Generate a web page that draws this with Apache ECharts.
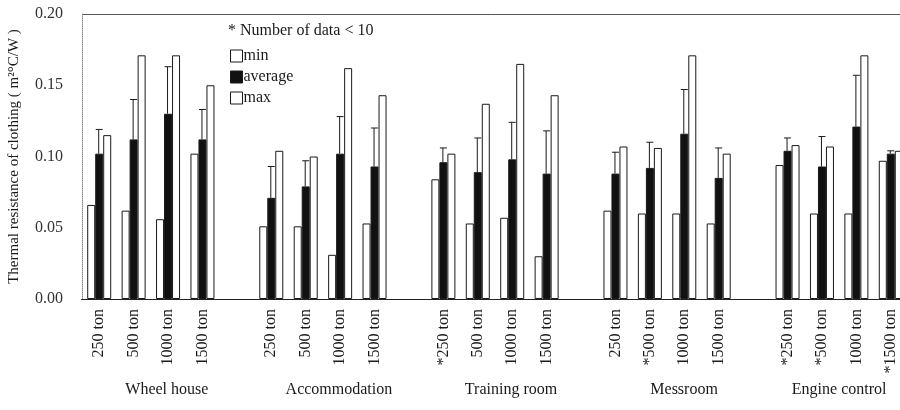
<!DOCTYPE html>
<html><head><meta charset="utf-8">
<script src="https://cdn.jsdelivr.net/npm/echarts@6/dist/echarts.min.js"></script>
<style>html,body{margin:0;padding:0;background:#fff}#c{width:900px;height:410px}</style>
</head><body><div id="c"></div>
<script>
const categories = ['250 ton','500 ton','1000 ton','1500 ton','',
  '250 ton','500 ton','1000 ton','1500 ton','',
  '*250 ton','500 ton','1000 ton','1500 ton','',
  '250 ton','*500 ton','1000 ton','1500 ton','',
  '*250 ton','*500 ton','1000 ton','*1500 ton'];
const groups = ['Wheel house','Accommodation','Training room','Messroom','Engine control'];
const yTicks = [0, 0.05, 0.10, 0.15, 0.20];
const minValues = [0.066,0.062,0.056,0.102,null, 0.051,0.051,0.031,0.053,null, 0.084,0.053,0.057,0.030,null, 0.062,0.060,0.060,0.053,null, 0.094,0.060,0.060,0.097];
const avgValues = [0.102,0.112,0.130,0.112,null, 0.071,0.079,0.102,0.093,null, 0.096,0.089,0.098,0.088,null, 0.088,0.092,0.116,0.085,null, 0.104,0.093,0.121,0.102];
const maxValues = [0.115,0.171,0.171,0.150,null, 0.104,0.100,0.162,0.143,null, 0.102,0.137,0.165,0.143,null, 0.107,0.106,0.171,0.102,null, 0.108,0.107,0.171,0.104];
const errTop    = [0.119,0.140,0.163,0.133,null, 0.093,0.097,0.128,0.120,null, 0.106,0.113,0.124,0.118,null, 0.103,0.110,0.147,0.106,null, 0.113,0.114,0.157,0.104];

const serif = 'Liberation Serif';
const ink = '#1a1a1a';
const toData = a => a.map(v => v == null ? '-' : v);
const errData = [];
avgValues.forEach((v, i) => { if (v != null) errData.push([i, v, errTop[i]]); });

const chart = echarts.init(document.getElementById('c'), null, {renderer: 'canvas'});
const barBase = {type: 'bar', barWidth: 8, barGap: '0%', animation: false};
chart.setOption({
  animation: false,
  backgroundColor: '#fff',
  title: {text: '* Number of data < 10', left: 228, top: 23, padding: 0,
    textStyle: {fontFamily: serif, fontSize: 16, fontWeight: 'normal', color: ink}},
  legend: {orient: 'vertical', left: 230, top: 48, padding: 0, itemWidth: 12, itemHeight: 12, itemGap: 5,
    textStyle: {fontFamily: serif, fontSize: 16, color: ink, padding: [0,0,0,-4]},
    data: [
      {name: 'min', icon: 'rect', itemStyle: {color: '#fff', borderColor: ink, borderWidth: 1}},
      {name: 'average', icon: 'rect', itemStyle: {color: '#111', borderColor: ink, borderWidth: 1}},
      {name: 'max', icon: 'rect', itemStyle: {color: '#fff', borderColor: ink, borderWidth: 1}}
    ]},
  grid: {left: 82, right: -8, top: 14, bottom: 111, outerBoundsMode: 'none', containLabel: false},
  xAxis: [{
    type: 'category', data: categories, boundaryGap: true,
    axisLine: {show: true, onZero: false, lineStyle: {color: '#222', width: 1}},
    axisTick: {show: false},
    axisLabel: {rotate: 90, interval: 0, margin: 10, fontFamily: serif, fontSize: 16, color: ink}
  }],
  yAxis: {
    type: 'value', min: 0, max: 0.20, interval: 0.05,
    name: 'Thermal resistance of clothing ( m\u00b2\u00b0C/W )', nameLocation: 'middle', nameGap: 60, nameRotate: 90,
    nameTextStyle: {fontFamily: serif, fontSize: 15, color: ink},
    axisLine: {show: true, lineStyle: {color: '#888', type: 'dotted'}},
    axisTick: {show: false},
    splitLine: {show: true, showMinLine: true, showMaxLine: true,
      lineStyle: {width: 1, color: ['#222', 'rgba(0,0,0,0)', 'rgba(0,0,0,0)', 'rgba(0,0,0,0)', '#555']}},
    axisLabel: {margin: 19, fontFamily: serif, fontSize: 16, color: '#333',
      formatter: v => yTicks.some(t => Math.abs(t - v) < 1e-9) ? v.toFixed(2) : ''}
  },
  series: [
    Object.assign({}, barBase, {name: 'min', data: toData(minValues),
      itemStyle: {color: '#fff', borderColor: ink, borderWidth: 1}}),
    Object.assign({}, barBase, {name: 'average', data: toData(avgValues),
      itemStyle: {color: '#111', borderColor: ink, borderWidth: 1}}),
    Object.assign({}, barBase, {name: 'max', data: toData(maxValues),
      itemStyle: {color: '#fff', borderColor: ink, borderWidth: 1}}),
    {type: 'custom', name: 'error', data: errData, z: 5, silent: true,
      renderItem: function (params, api) {
        const top = api.coord([api.value(0), api.value(2)]);
        const base = api.coord([api.value(0), api.value(1)]);
        const st = {stroke: ink, lineWidth: 1};
        return {type: 'group', children: [
          {type: 'line', shape: {x1: top[0] - 0.5, y1: base[1], x2: top[0] - 0.5, y2: top[1]}, style: st},
          {type: 'line', shape: {x1: top[0] - 3.5, y1: top[1], x2: top[0] + 3.5, y2: top[1]}, style: st}
        ]};
      }}
  ]
});

const offsets = [16, 16, 16, 17, 0];
const graphics = groups.map((g, k) => {
  const a = chart.convertToPixel({xAxisIndex: 0}, k * 5 + 1);
  const b = chart.convertToPixel({xAxisIndex: 0}, k * 5 + 2);
  return {type: 'text', x: (a + b) / 2 + offsets[k], y: 390,
    style: {text: g, fontFamily: serif, fontSize: 16, fill: ink, align: 'center', verticalAlign: 'middle'}};
});
const y0 = Math.round(chart.convertToPixel({yAxisIndex: 0}, 0)) + 0.5;
const xL = chart.convertToPixel({xAxisIndex: 0}, 0) - 18;
graphics.push({type: 'line', z: 100, shape: {x1: xL, y1: y0, x2: 900, y2: y0},
  style: {stroke: '#222', lineWidth: 1.2}});
chart.setOption({graphic: graphics});
</script></body></html>
